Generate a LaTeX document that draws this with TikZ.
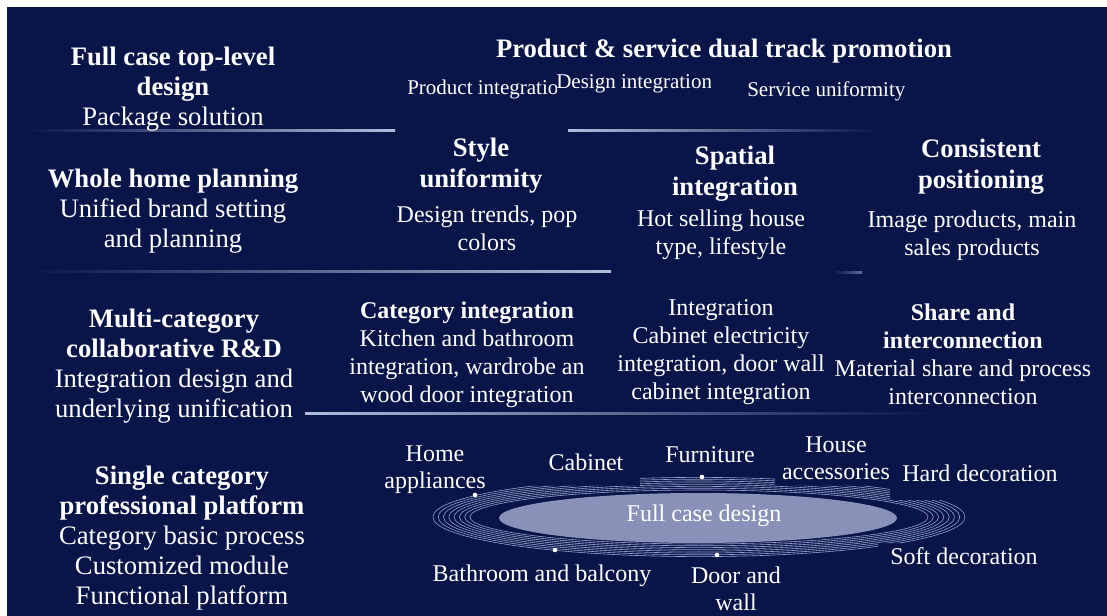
\documentclass[tikz,border=0pt]{standalone}
\usepackage{fontspec}
\setmainfont{Liberation Serif}
\definecolor{bgNavy}{RGB}{9,20,72}
\definecolor{lineLt}{RGB}{178,188,218}
\definecolor{ringCol}{RGB}{150,160,205}
\definecolor{coreFill}{RGB}{137,145,184}
\newcommand{\lvlfont}{\fontsize{20}{22.5}\selectfont}
\newcommand{\headfont}{\fontsize{20}{23.25}\selectfont}
\newcommand{\cellfont}{\fontsize{18}{21}\selectfont}
\newcommand{\tagfont}{\fontsize{18}{20.5}\selectfont}
\newcommand{\subfont}{\fontsize{15.75}{18}\selectfont}

\begin{document}
\begin{tikzpicture}[x=0.75pt, y=-0.75pt,
    every node/.style={text=white, inner sep=0pt, align=center},
    level/.style={font=\lvlfont},
    cellhead/.style={font=\headfont\bfseries},
    celltext/.style={font=\cellfont},
    tag/.style={font=\tagfont},
    subitem/.style={font=\subfont, anchor=west},
    ringline/.style={draw=ringCol, line width=0.45pt}]
    \useasboundingbox (0,0) rectangle (1107,616);
    \fill[white] (0,0) rectangle (1107,616);
    \fill[bgNavy] (7,7) rectangle (1107,616);

    % dividing lines
    \shade[left color=bgNavy, right color=lineLt] (25,130) rectangle (395,132);
    \shade[left color=lineLt, middle color=lineLt, right color=bgNavy] (568,130) rectangle (880,132);
    \shade[left color=bgNavy, right color=lineLt] (30,271) rectangle (611,273);
    \shade[left color=bgNavy, right color=lineLt!50!bgNavy] (833,272) rectangle (862,274);
    \shade[left color=lineLt, right color=bgNavy] (305,413) rectangle (935,415);

    % left column
    \node[level] (topDesign) at (173,89) {\textbf{Full case top-level}\\\textbf{design}\\Package solution};
    \node[level] (homePlan) at (173,211) {\textbf{Whole home planning}\\Unified brand setting\\and planning};
    \node[level] (multiCat) at (174,366) {\textbf{Multi-category}\\\textbf{collaborative R\&D}\\Integration design and\\underlying unification};
    \node[level] (singleCat) at (182,538) {\textbf{Single category}\\\textbf{professional platform}\\Category basic process\\Customized module\\Functional platform};

    % top row
    \node[level] (promo) at (724,51) {\textbf{Product \& service dual track promotion}};
    \begin{scope}
      \clip (400,60) rectangle (556,110);
      \node[subitem] (prodInt) at (407,89) {Product integration};
    \end{scope}
    \begin{scope}
      \clip (550,60) rectangle (710,110);
      \node[subitem] (desInt) at (556,84) {Design integration};
    \end{scope}
    \node[subitem] (servUni) at (747,91) {Service uniformity};

    % second row
    \node[cellhead] (styleHead) at (481,166) {Style\\uniformity};
    \node[celltext] (styleText) at (487,228) {Design trends, pop\\colors};
    \node[cellhead] (spatHead) at (735,174) {Spatial\\integration};
    \node[celltext] (spatText) at (721,235) {Hot selling house\\type, lifestyle};
    \node[cellhead] (consHead) at (981,167) {Consistent\\positioning};
    \node[celltext] (consText) at (972,236) {Image products, main\\sales products};

    % third row
    \node[celltext] (catInt) at (467,355) {\textbf{Category integration}\\Kitchen and bathroom\\integration, wardrobe an\\wood door integration};
    \node[celltext] (cabInt) at (721,352) {Integration\\Cabinet electricity\\integration, door wall\\cabinet integration};
    \node[celltext] (shareCell) at (963,354) {\textbf{Share and}\\\textbf{interconnection}\\Material share and process\\interconnection};

    % rings round the core
    \begin{scope}
      \clip (420,488) -- (517,488) -- (517,486) -- (640,486) -- (640,475) -- (775,475)
        -- (775,486) -- (890,486) -- (890,500) -- (980,500) -- (980,543) -- (878,543)
        -- (878,562) -- (420,562) -- cycle;
      \foreach \k in {0,...,7}
        \draw[ringline] (699,517) ellipse [x radius={229+5.3*\k}, y radius={27+1.8*\k}];
    \end{scope}
    \fill[coreFill] (698,518) ellipse [x radius=199, y radius=25];
    \foreach \p in {(475,495),(702,477),(555,550),(717,555)}
      \fill[white] \p circle [radius=2.3];

    \node[tag] (coreTag) at (704,516) {Full case design};
    \node[tag] (homeApp) at (435,470) {Home\\appliances};
    \node[tag] (cabTag) at (586,462) {Cabinet};
    \node[tag] (furnTag) at (710,455) {Furniture};
    \node[tag] (houseTag) at (836,458) {House\\accessories};
    \node[tag] (hardTag) at (980,473) {Hard decoration};
    \node[tag] (softTag) at (964,556) {Soft decoration};
    \node[tag] (bathTag) at (542,576) {Bathroom and balcony};
    \node[tag] (doorTag) at (736,589) {Door and\\wall};
\end{tikzpicture}
\end{document}
